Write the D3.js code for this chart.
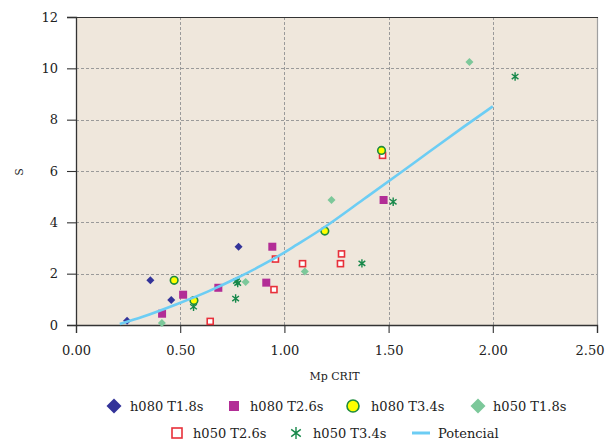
<!DOCTYPE html>
<html>
<head>
<meta charset="utf-8">
<script src="https://cdn.jsdelivr.net/npm/d3@7"></script>
<style>
  html, body { margin: 0; padding: 0; background: #ffffff; }
  svg { display: block; }
  text { font-family: "DejaVu Serif", serif; fill: #222; }
</style>
</head>
<body>
<svg id="chart" width="608" height="442"></svg>
<script>
// Series: [Mp CRIT, S]
const h080T18 = [[0.245, 0.17], [0.357, 1.74], [0.457, 0.97], [0.780, 3.05]];
const h080T26 = [[0.413, 0.44], [0.514, 1.18], [0.683, 1.45], [0.913, 1.65], [0.942, 3.05], [1.476, 4.87]];
const h080T34 = [[0.471, 1.74], [0.566, 0.95], [1.194, 3.66], [1.466, 6.80]];
const h050T18 = [[0.412, 0.08], [0.814, 1.68], [1.098, 2.08], [1.226, 4.87], [1.888, 10.25]];
const h050T26 = [[0.644, 0.14], [0.950, 1.38], [0.957, 2.57], [1.087, 2.39], [1.269, 2.39], [1.274, 2.77], [1.471, 6.61]];
const h050T34 = [[0.564, 0.71], [0.766, 1.03], [0.770, 1.71], [0.776, 1.63], [1.372, 2.40], [1.522, 4.80], [2.107, 9.68]];
// Power trendline ("Potencial")
const potencial = [[0.21, 0.04], [0.32, 0.32], [0.48, 0.80], [0.64, 1.33], [0.77, 1.82], [0.89, 2.32], [0.97, 2.68],
                   [1.06, 3.13], [1.19, 3.80], [1.38, 4.90], [1.56, 5.95], [1.69, 6.72], [1.86, 7.72], [2.00, 8.52]];

const xTicks = [0, 0.5, 1, 1.5, 2, 2.5];
const yTicks = [0, 2, 4, 6, 8, 10, 12];
const seriesNames = ["h080 T1.8s", "h080 T2.6s", "h080 T3.4s", "h050 T1.8s", "h050 T2.6s", "h050 T3.4s", "Potencial"];

const svg = d3.select("#chart");
const m = { left: 76, top: 17, right: 597, bottom: 325 };
const x = d3.scaleLinear().domain([0, 2.5]).range([m.left, m.right]);
const y = d3.scaleLinear().domain([0, 12]).range([m.bottom, m.top]);

// plot background
svg.append("rect")
  .attr("x", m.left).attr("y", m.top)
  .attr("width", m.right - m.left).attr("height", m.bottom - m.top)
  .attr("fill", "#efe7dc");

// dashed grid
const grid = svg.append("g").attr("stroke", "#9a9a9a").attr("stroke-width", 1).attr("stroke-dasharray", "3,2");
grid.selectAll("line.v").data(xTicks.filter(d => d > 0 && d < 2.5)).join("line")
  .attr("x1", d => Math.round(x(d)) + 0.5).attr("x2", d => Math.round(x(d)) + 0.5)
  .attr("y1", m.top).attr("y2", m.bottom);
grid.selectAll("line.h").data(yTicks.filter(d => d > 0 && d < 12)).join("line")
  .attr("x1", m.left).attr("x2", m.right)
  .attr("y1", d => Math.round(y(d)) + 0.5).attr("y2", d => Math.round(y(d)) + 0.5);

// frame
svg.append("line").attr("x1", m.right + 0.5).attr("x2", m.right + 0.5).attr("y1", m.top).attr("y2", m.bottom)
  .attr("stroke", "#a0a0a0").attr("stroke-width", 1.2);
svg.append("line").attr("x1", m.left).attr("x2", m.right + 1).attr("y1", m.top + 0.5).attr("y2", m.top + 0.5)
  .attr("stroke", "#333").attr("stroke-width", 1.2);

// axes
const xAxis = d3.axisBottom(x).tickValues(xTicks).tickFormat(d3.format(".2f")).tickSize(8).tickPadding(13);
const gx = svg.append("g").attr("transform", `translate(0,${m.bottom})`).call(xAxis);
const yAxis = d3.axisLeft(y).tickValues(yTicks).tickFormat(d3.format("d")).tickSize(9).tickPadding(9);
const gy = svg.append("g").attr("transform", `translate(${m.left},0)`).call(yAxis);
[gx, gy].forEach(g => {
  g.select(".domain").attr("stroke", "#333").attr("stroke-width", 1.3);
  g.selectAll(".tick line").attr("stroke", "#333").attr("stroke-width", 1.1);
  g.selectAll(".tick text").attr("font-family", "DejaVu Serif, serif").attr("font-size", 13).attr("fill", "#222");
});
// keep the last x label inside the page
gx.selectAll(".tick text").filter(d => d === 2.5).attr("text-anchor", "end").attr("x", 7);

svg.append("text").attr("x", (m.left + m.right) / 2 - 2).attr("y", 380)
  .attr("text-anchor", "middle").attr("font-size", 11).text("Mp CRIT");
svg.append("text").attr("transform", "translate(23,172) rotate(-90)")
  .attr("text-anchor", "middle").attr("font-size", 11).text("S");

// marker drawing helpers
function diamond(g, r, fill) {
  return g.append("path").attr("d", `M0,${-r}L${r},0L0,${r}L${-r},0Z`).attr("fill", fill);
}
function square(g, s, fill, stroke, sw) {
  return g.append("rect").attr("x", -s / 2).attr("y", -s / 2).attr("width", s).attr("height", s)
    .attr("fill", fill).attr("stroke", stroke || "none").attr("stroke-width", sw || 0);
}
function circle(g, r) {
  return g.append("circle").attr("r", r).attr("fill", "#ffff00").attr("stroke", "#1e8c3c").attr("stroke-width", 1.6);
}
function star(g, r, color) {
  const a = r * 0.8;
  return g.append("path")
    .attr("d", `M0,${-r}L0,${r}M${-a},${-a * 0.75}L${a},${a * 0.75}M${-a},${a * 0.75}L${a},${-a * 0.75}`)
    .attr("stroke", color).attr("stroke-width", 1.4).attr("fill", "none");
}

const pts = svg.append("g");
function plotSeries(data, draw) {
  data.forEach(d => {
    const g = pts.append("g").attr("transform", `translate(${x(d[0])},${y(d[1])})`);
    draw(g);
  });
}

// trendline
const line = d3.line().x(d => x(d[0])).y(d => y(d[1])).curve(d3.curveMonotoneX);

plotSeries(h080T18, g => diamond(g, 4, "#333399"));
plotSeries(h080T26, g => square(g, 8, "#b22d96"));
plotSeries(h050T18, g => diamond(g, 4, "#7cc89a"));
plotSeries(h050T26, g => square(g, 6, "#ffffff", "#e8303a", 1.6));
plotSeries(h050T34, g => star(g, 4.2, "#17884a"));
plotSeries(h080T34, g => circle(g, 3.8));

svg.append("path").datum(potencial).attr("d", line)
  .attr("fill", "none").attr("stroke", "#6ccdf4").attr("stroke-width", 2.6);

// legend
const legend = svg.append("g").attr("font-size", 13);
const legendItems = [
  { name: seriesNames[0], mx: 114, tx: 130, cy: 406, draw: g => diamond(g, 7.5, "#333399") },
  { name: seriesNames[1], mx: 234, tx: 250, cy: 406, draw: g => square(g, 10, "#b22d96") },
  { name: seriesNames[2], mx: 353, tx: 371, cy: 406, draw: g => circle(g, 6) },
  { name: seriesNames[3], mx: 478, tx: 493, cy: 406, draw: g => diamond(g, 7.5, "#7cc89a") },
  { name: seriesNames[4], mx: 177, tx: 193, cy: 433, draw: g => square(g, 10, "#ffffff", "#e8303a", 1.6) },
  { name: seriesNames[5], mx: 296, tx: 313, cy: 433, draw: g => star(g, 6, "#17884a") },
  { name: seriesNames[6], mx: 421, tx: 438, cy: 433,
    draw: g => g.append("line").attr("x1", -9).attr("x2", 9).attr("stroke", "#6ccdf4").attr("stroke-width", 3) }
];
legendItems.forEach(it => {
  const g = legend.append("g").attr("transform", `translate(${it.mx},${it.cy})`);
  it.draw(g);
  legend.append("text").attr("x", it.tx).attr("y", it.cy).attr("dy", "0.35em").text(it.name);
});
</script>
</body>
</html>
